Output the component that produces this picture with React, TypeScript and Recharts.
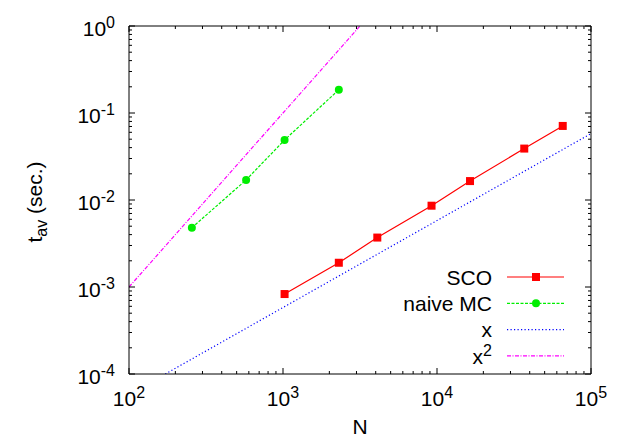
import React from "react";
import { LineChart, Line, XAxis, YAxis } from "recharts";

// SCO timings (N, t_av in sec.)
const scoN = [1024, 2304, 4096, 9216, 16384, 36864, 65536];
const scoT = [0.00083, 0.0019, 0.0037, 0.0086, 0.0165, 0.039, 0.071];

// naive MC timings
const mcN = [256, 576, 1024, 2304];
const mcT = [0.0048, 0.017, 0.049, 0.185];

// guide lines x and x^2 (end points)
const xLineN = [172, 100000];
const xLineT = [0.0001, 0.058];
const x2LineN = [100, 3162];
const x2LineT = [0.001, 1];

const xMajor = [100, 1000, 10000, 100000];
const yMajor = [0.0001, 0.001, 0.01, 0.1, 1];
const minorMult = [2, 3, 4, 5, 6, 7, 8, 9];

const W = 628;
const H = 440;
const FONT = "'Liberation Sans', Arial, Helvetica, sans-serif";
const FS = 21;
const SUP = 16;

const zip = (ns: number[], ts: number[]) => ns.map((N, i) => ({ N, t: ts[i] }));

const withMinor = (major: number[]) => {
  const out: number[] = [];
  major.forEach((m, i) => {
    out.push(m);
    if (i < major.length - 1) minorMult.forEach((k) => out.push(m * k));
  });
  return out;
};

const xTicks = withMinor(xMajor);
const yTicks = withMinor(yMajor);

const isMajor = (v: number) => {
  const l = Math.log10(v);
  return Math.abs(l - Math.round(l)) < 1e-6;
};

const Pow10 = (props: { v: number; x: number; y: number; anchor: string }) => {
  const e = Math.round(Math.log10(props.v));
  return (
    <text x={props.x} y={props.y} textAnchor={props.anchor} fontSize={FS} fontFamily={FONT} fill="#000">
      <tspan>10</tspan>
      <tspan dy={-8} fontSize={SUP}>
        {e}
      </tspan>
    </text>
  );
};

const BottomTick = (p: any) => {
  const major = isMajor(p.payload.value);
  return (
    <g>
      <line x1={p.x} x2={p.x} y1={p.y} y2={p.y - (major ? 6 : 3)} stroke="#000" />
      {major && <Pow10 v={p.payload.value} x={p.x} y={p.y + 32} anchor="middle" />}
    </g>
  );
};

const TopTick = (p: any) => {
  const major = isMajor(p.payload.value);
  return <line x1={p.x} x2={p.x} y1={p.y} y2={p.y + (major ? 6 : 3)} stroke="#000" />;
};

const LeftTick = (p: any) => {
  const major = isMajor(p.payload.value);
  return (
    <g>
      <line x1={p.x} x2={p.x + (major ? 6 : 3)} y1={p.y} y2={p.y} stroke="#000" />
      {major && <Pow10 v={p.payload.value} x={p.x - 14} y={p.y + 10} anchor="end" />}
    </g>
  );
};

const RightTick = (p: any) => {
  const major = isMajor(p.payload.value);
  return <line x1={p.x} x2={p.x - (major ? 6 : 3)} y1={p.y} y2={p.y} stroke="#000" />;
};

const Square = (p: any) => {
  if (p.cx == null || p.cy == null) return null;
  return <rect key={p.index} x={p.cx - 4} y={p.cy - 4} width={8} height={8} fill="#ff0000" />;
};

const series = [
  { name: "SCO", color: "#ff0000", dash: undefined, mark: "square" },
  { name: "naive MC", color: "#00ee00", dash: "3 1.5", mark: "circle" },
  { name: "x", color: "#0000ff", dash: "1.2 2.3", mark: "" },
  { name: "x2", color: "#ff00ff", dash: "4 1.5 1 1.5", mark: "" },
];

const LegendBox = () => {
  const textX = 492;
  const x1 = 507;
  const x2 = 564;
  const y0 = 277;
  return (
    <svg width={W} height={H} style={{ position: "absolute", left: 0, top: 0, pointerEvents: "none" }}>
      {series.map((s, i) => {
        const y = y0 + i * 26.3;
        return (
          <g key={s.name}>
            {s.name === "x2" ? (
              <text x={textX} y={y + 8} textAnchor="end" fontSize={FS} fontFamily={FONT}>
                <tspan>x</tspan>
                <tspan dy={-8} fontSize={SUP}>
                  2
                </tspan>
              </text>
            ) : (
              <text x={textX} y={y + 7.5} textAnchor="end" fontSize={FS} fontFamily={FONT}>
                {s.name}
              </text>
            )}
            <line x1={x1} x2={x2} y1={y} y2={y} stroke={s.color} strokeWidth={1.2} strokeDasharray={s.dash} />
            {s.mark === "square" && <rect x={536 - 4} y={y - 4} width={8} height={8} fill={s.color} />}
            {s.mark === "circle" && <circle cx={536} cy={y} r={4} fill={s.color} />}
          </g>
        );
      })}
    </svg>
  );
};

const axisCommon = {
  allowDataOverflow: true,
  interval: 0 as const,
  tickSize: 0,
  tickMargin: 0,
  tickLine: false,
  axisLine: { stroke: "#000" },
};

export default function App() {
  return (
    <div style={{ position: "absolute", left: 0, top: 0, width: W, height: H, background: "#fff" }}>
      <LineChart width={W} height={H} margin={{ top: 25, right: 36, bottom: 65, left: 128 }}>
        <XAxis
          {...axisCommon}
          xAxisId="b"
          dataKey="N"
          type="number"
          scale="log"
          domain={[100, 100000]}
          ticks={xTicks}
          height={1}
          tick={BottomTick}
        />
        <XAxis
          {...axisCommon}
          xAxisId="t"
          orientation="top"
          dataKey="N"
          type="number"
          scale="log"
          domain={[100, 100000]}
          ticks={xTicks}
          height={1}
          tick={TopTick}
        />
        <YAxis
          {...axisCommon}
          yAxisId="l"
          dataKey="t"
          type="number"
          scale="log"
          domain={[0.0001, 1]}
          ticks={yTicks}
          width={1}
          tick={LeftTick}
        />
        <YAxis
          {...axisCommon}
          yAxisId="r"
          orientation="right"
          dataKey="t"
          type="number"
          scale="log"
          domain={[0.0001, 1]}
          ticks={yTicks}
          width={1}
          tick={RightTick}
        />
        <Line
          xAxisId="b"
          yAxisId="l"
          data={zip(x2LineN, x2LineT)}
          dataKey="t"
          name="x2"
          type="linear"
          stroke="#ff00ff"
          strokeWidth={1.2}
          strokeDasharray="4 1.5 1 1.5"
          dot={false}
          isAnimationActive={false}
        />
        <Line
          xAxisId="b"
          yAxisId="l"
          data={zip(xLineN, xLineT)}
          dataKey="t"
          name="x"
          type="linear"
          stroke="#0000ff"
          strokeWidth={1.2}
          strokeDasharray="1.2 2.3"
          dot={false}
          isAnimationActive={false}
        />
        <Line
          xAxisId="b"
          yAxisId="l"
          data={zip(mcN, mcT)}
          dataKey="t"
          name="naive MC"
          type="linear"
          stroke="#00ee00"
          strokeWidth={1.2}
          strokeDasharray="3 1.5"
          dot={{ r: 4, fill: "#00ee00", stroke: "none" }}
          isAnimationActive={false}
        />
        <Line
          xAxisId="b"
          yAxisId="l"
          data={zip(scoN, scoT)}
          dataKey="t"
          name="SCO"
          type="linear"
          stroke="#ff0000"
          strokeWidth={1.2}
          dot={Square}
          isAnimationActive={false}
        />
        <text x={360} y={434} textAnchor="middle" fontSize={FS} fontFamily={FONT}>
          N
        </text>
        <text
          x={42}
          y={202}
          textAnchor="middle"
          fontSize={FS}
          fontFamily={FONT}
          transform="rotate(-90 42 202)"
        >
          <tspan>t</tspan>
          <tspan dy={5} fontSize={SUP}>
            av
          </tspan>
          <tspan dy={-5}> (sec.)</tspan>
        </text>
      </LineChart>
      <LegendBox />
    </div>
  );
}
